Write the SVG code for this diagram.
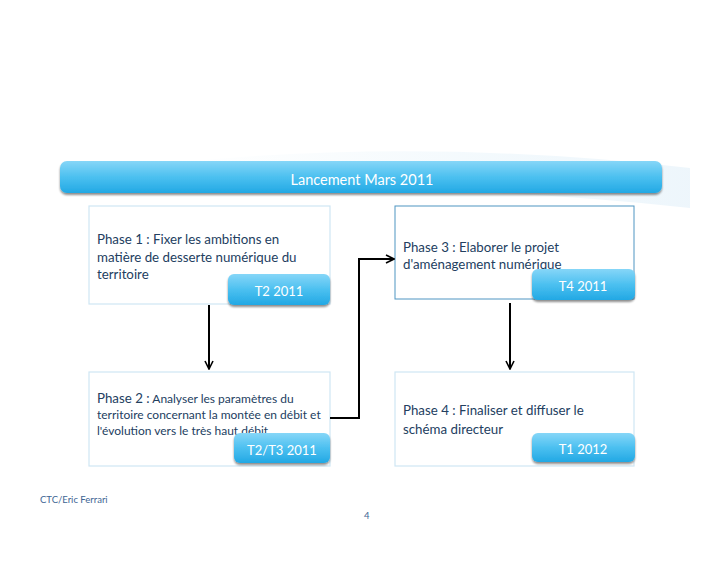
<svg xmlns="http://www.w3.org/2000/svg" width="728" height="563" viewBox="0 0 728 563">
<defs>
<linearGradient id="blue" x1="0" y1="0" x2="0" y2="1">
<stop offset="0" stop-color="#86d6f8"/>
<stop offset="0.5" stop-color="#4cc0f0"/>
<stop offset="1" stop-color="#22a8e4"/>
</linearGradient>
<linearGradient id="swoosh" x1="0" y1="0" x2="1" y2="0">
<stop offset="0" stop-color="#eef7fc" stop-opacity="0"/>
<stop offset="0.6" stop-color="#eef7fc"/>
<stop offset="1" stop-color="#e6f2fa"/>
</linearGradient>
<filter id="sh" x="-10%" y="-20%" width="120%" height="160%">
<feGaussianBlur in="SourceAlpha" stdDeviation="1.2"/>
<feOffset dx="0" dy="1.5" result="b"/>
<feComponentTransfer><feFuncA type="linear" slope="0.45"/></feComponentTransfer>
<feMerge><feMergeNode/><feMergeNode in="SourceGraphic"/></feMerge>
</filter>
<marker id="arr" viewBox="0 0 10 10" refX="9" refY="5" markerWidth="10" markerHeight="10" markerUnits="userSpaceOnUse" orient="auto">
<path d="M1,1 L9,5 L1,9" fill="none" stroke="#000" stroke-width="1.6"/>
</marker>
<style>
.box{fill:#fff;stroke:#cfe6f3;stroke-width:1.2}
.box3{fill:#fff;stroke:#4f95c2;stroke-width:1}
.badge{fill:url(#blue);filter:url(#sh)}
.t{font-family:Lato,"Open Sans",sans-serif;font-size:13.3px;fill:#23405f}
.ts{font-family:Lato,"Open Sans",sans-serif;font-size:12px;fill:#23405f}
.bt{font-family:Lato,"Open Sans",sans-serif;font-size:13px;fill:#fff;text-anchor:middle}
.bn{font-family:Lato,"Open Sans",sans-serif;font-size:14.5px;fill:#fff;text-anchor:middle}
.foot{font-family:Lato,"Open Sans",sans-serif;font-size:9.5px;fill:#3e6594}
.conn{fill:none;stroke:#000;stroke-width:2}
</style>
</defs>
<rect width="728" height="563" fill="#fff"/>
<path d="M180,162 Q430,138 690,168 L690,208 Q430,180 180,195 Z" fill="url(#swoosh)" opacity="0.7"/>

<g id="banner">
<rect x="60" y="161" width="602" height="32" rx="7" class="badge"/>
<text x="362" y="185" class="bn">Lancement Mars 2011</text>
</g>

<g id="phase1">
<rect x="89" y="206" width="241" height="98" class="box"/>
<text class="t"><tspan x="97" y="244">Phase 1 : Fixer les ambitions en</tspan><tspan x="97" y="262">matière de desserte numérique du</tspan><tspan x="97" y="279">territoire</tspan></text>
<rect x="228" y="274" width="102" height="31" rx="6" class="badge"/>
<text x="279" y="296" class="bt">T2 2011</text>
</g>

<g id="phase2">
<rect x="89" y="372" width="241" height="94" class="box"/>
<text class="ts"><tspan x="97" y="403"><tspan class="t">Phase 2 :</tspan> Analyser les paramètres du</tspan><tspan x="97" y="419">territoire concernant la montée en débit et</tspan><tspan x="97" y="435">l'évolution vers  le très haut débit</tspan></text>
<rect x="234" y="433" width="96" height="30" rx="6" class="badge"/>
<text x="282" y="455" class="bt">T2/T3 2011</text>
</g>

<g id="phase3">
<rect x="395" y="206" width="239" height="93" class="box3"/>
<text class="t"><tspan x="403" y="252">Phase 3 : Elaborer le projet</tspan><tspan x="403" y="269">d'aménagement numérique</tspan></text>
<rect x="532" y="269" width="103" height="31" rx="6" class="badge"/>
<text x="583" y="291" class="bt">T4 2011</text>
</g>

<g id="phase4">
<rect x="395" y="372" width="239" height="94" class="box"/>
<text class="t"><tspan x="403" y="415">Phase 4 : Finaliser et diffuser le</tspan><tspan x="403" y="434">schéma directeur</tspan></text>
<rect x="532" y="433" width="103" height="29" rx="6" class="badge"/>
<text x="583" y="454" class="bt">T1 2012</text>
</g>

<g id="connectors">
<path d="M209,305 L209,369" class="conn" marker-end="url(#arr)"/>
<path d="M510,303 L510,369" class="conn" marker-end="url(#arr)"/>
<path d="M330,418 L359,418 L359,259 L394,259" class="conn" marker-end="url(#arr)"/>
</g>

<g id="footer">
<text x="40" y="503" class="foot">CTC/Eric Ferrari</text>
<text x="364" y="519" class="foot">4</text>
</g>
</svg>
